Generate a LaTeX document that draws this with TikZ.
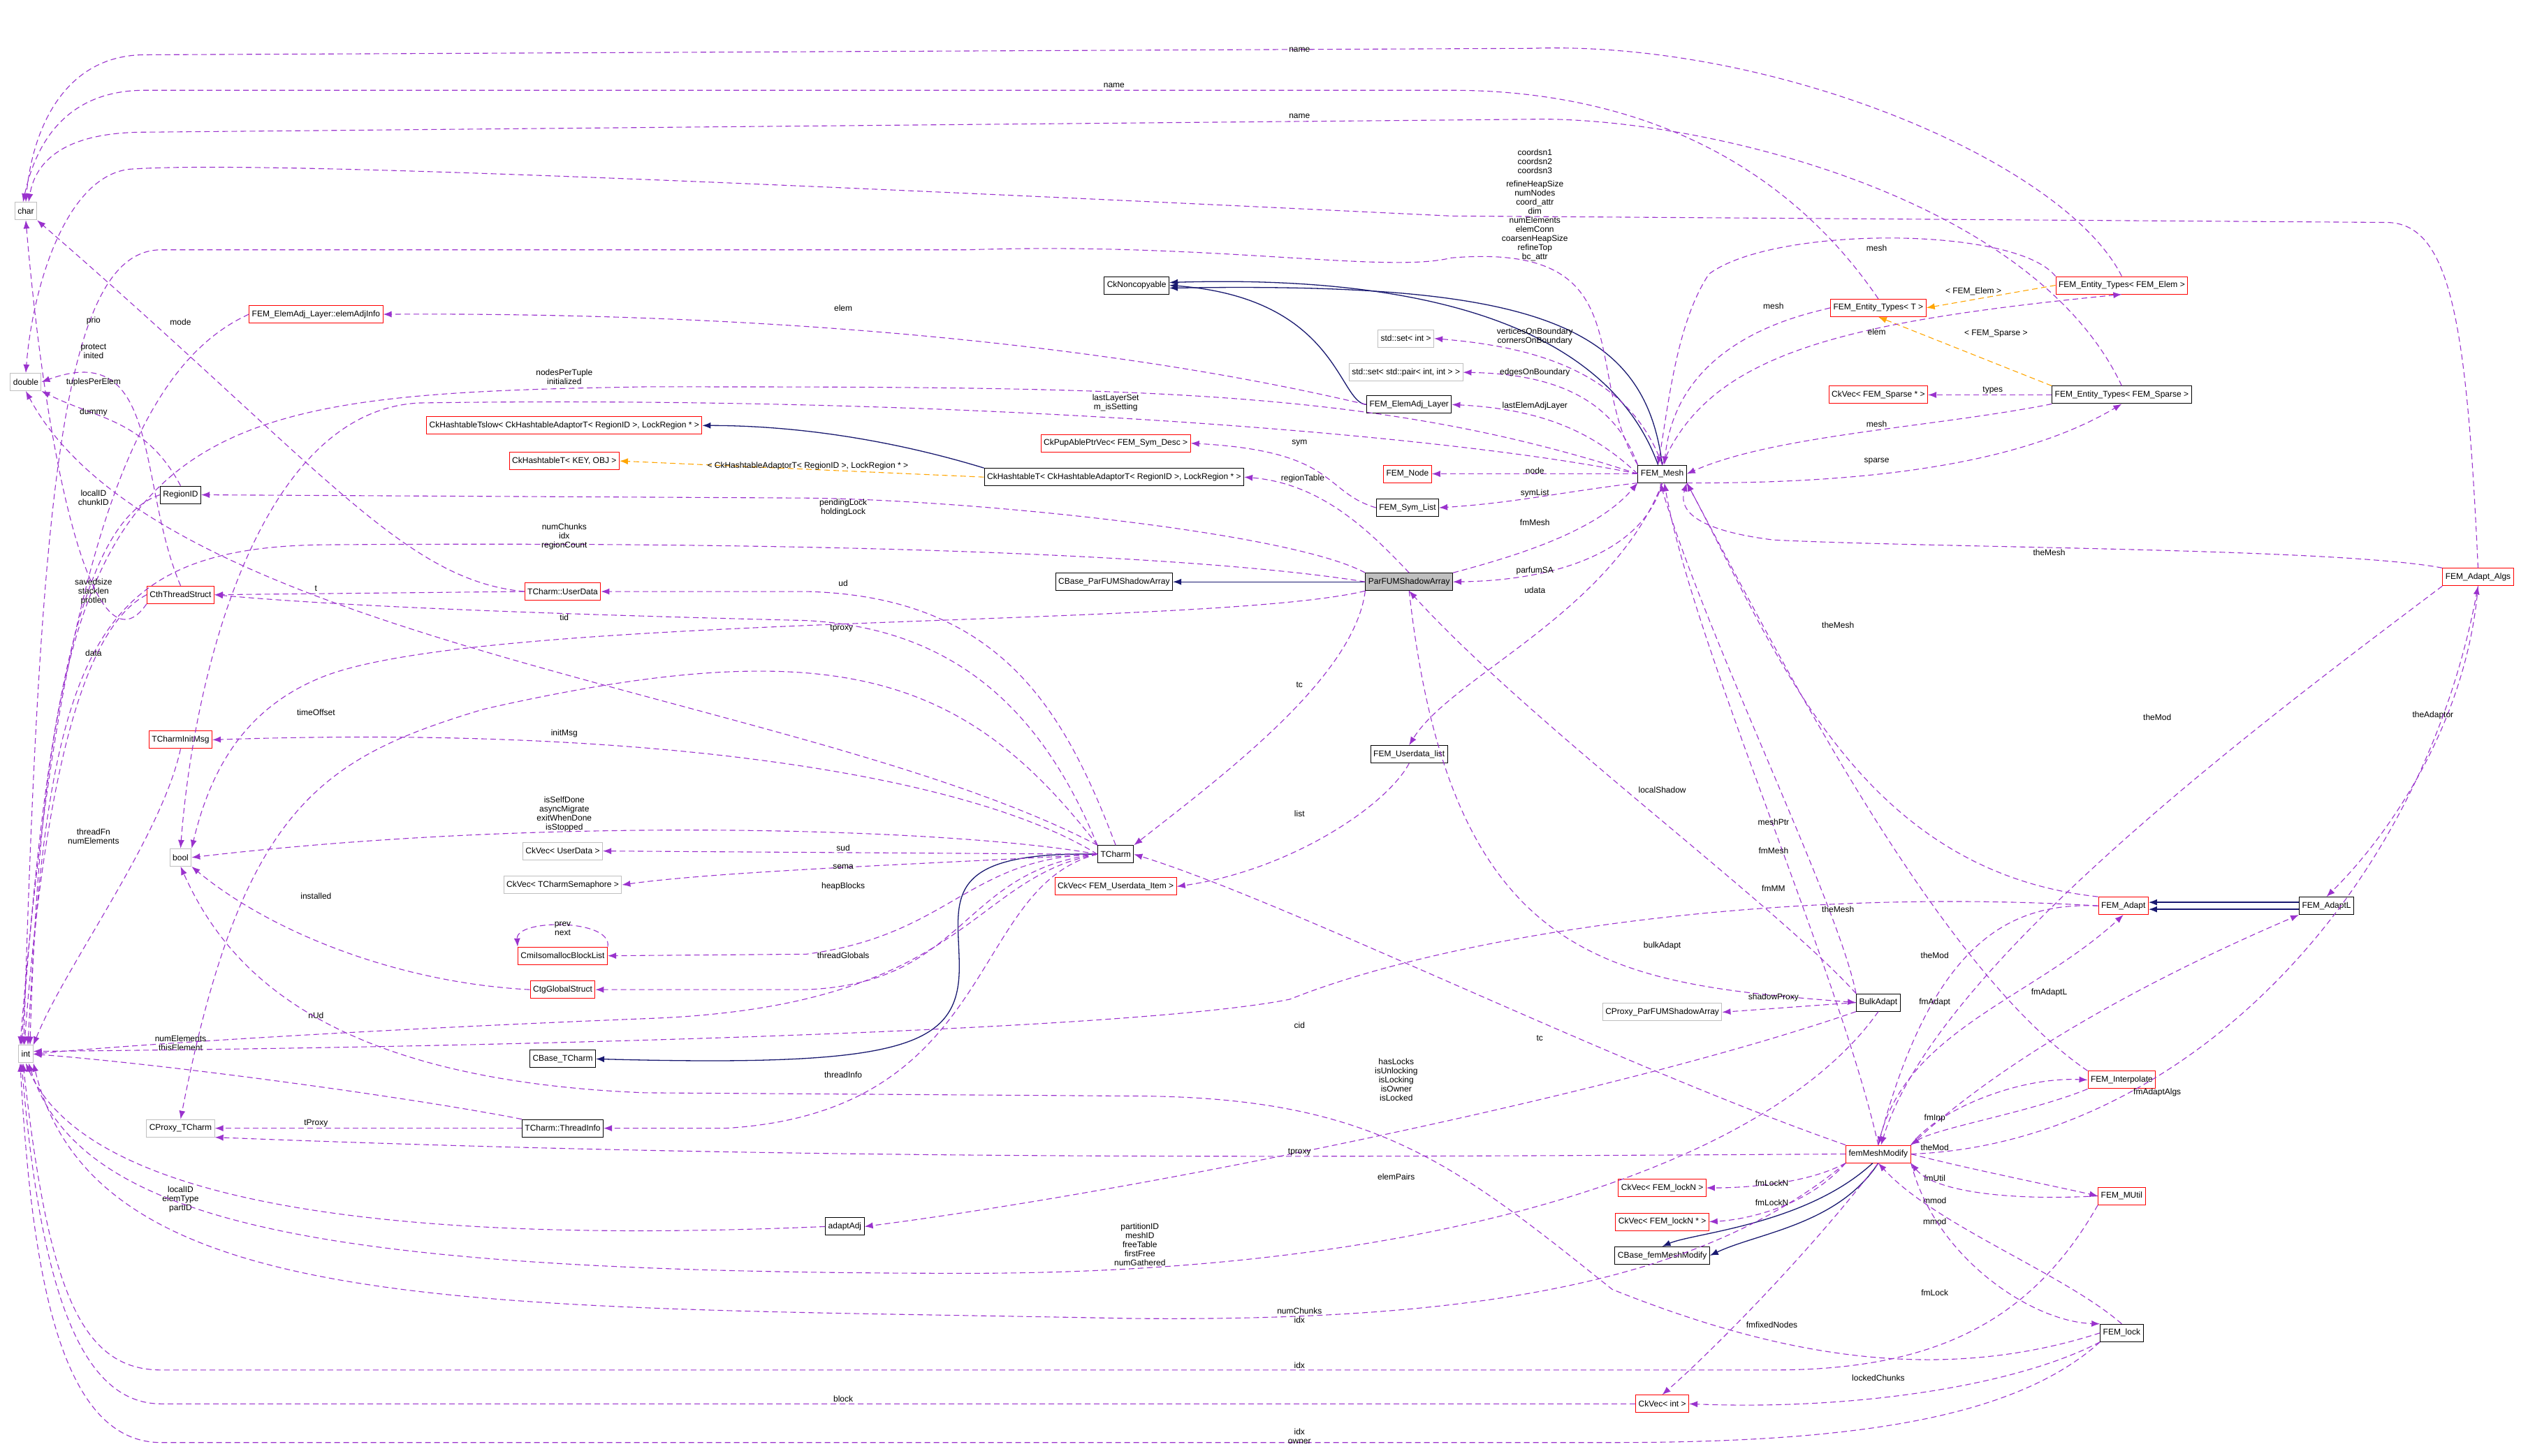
\documentclass[tikz,border=0pt]{standalone}
\usepackage{fontspec}
\setmainfont{Liberation Sans}
\usetikzlibrary{arrows.meta}
\definecolor{pu}{HTML}{9A32CD}
\definecolor{nv}{HTML}{191970}
\definecolor{og}{HTML}{FFA500}
\definecolor{gr}{HTML}{BFBFBF}
\tikzset{
 box/.style={draw=black,rectangle,inner sep=4pt,minimum height=25pt,font=\fontsize{12}{13}\selectfont,line width=1pt},
 rbox/.style={box,draw=red},
 gbox/.style={box,draw=gr},
 cur/.style={box,fill=gr},
 use/.style={draw=pu,dashed,dash pattern=on 8pt off 5pt,line width=1.1pt,-{Latex[length=12pt,width=9pt]}},
 inh/.style={draw=nv,line width=1.3pt,-{Latex[length=12pt,width=9pt]}},
 tpl/.style={draw=og,dashed,dash pattern=on 8pt off 5pt,line width=1.1pt,-{Latex[length=12pt,width=9pt]}},
 lbl/.style={font=\fontsize{12}{13}\selectfont,align=center,inner sep=0pt}
}
\begin{document}
\begin{tikzpicture}[x=2.308pt,y=-2.308pt]
\useasboundingbox[fill=white] (0,0) rectangle (1568,903);
% nodes
\node[gbox] (chr) at (16,131) {char};
\node[gbox] (dbl) at (16,237) {double};
\node[gbox] (int) at (16,654) {int};
\node[gbox] (bool) at (112,532) {bool};
\node[rbox] (eai) at (196,195) {FEM\_ElemAdj\_Layer::elemAdjInfo};
\node[box] (nc) at (705,177) {CkNoncopyable};
\node[gbox] (seti) at (872,210) {std::set< int >};
\node[gbox] (setp) at (872,231) {std::set< std::pair< int, int > >};
\node[box] (eal) at (874,251) {FEM\_ElemAdj\_Layer};
\node[rbox] (hts) at (350,264) {CkHashtableTslow< CkHashtableAdaptorT< RegionID >, LockRegion * >};
\node[rbox] (htk) at (350,286) {CkHashtableT< KEY, OBJ >};
\node[rbox] (pup) at (692,275) {CkPupAblePtrVec< FEM\_Sym\_Desc >};
\node[box] (htr) at (691,296) {CkHashtableT< CkHashtableAdaptorT< RegionID >, LockRegion * >};
\node[rbox] (fnode) at (873,294) {FEM\_Node};
\node[box] (fsym) at (873,315) {FEM\_Sym\_List};
\node[box] (mesh) at (1031,294) {FEM\_Mesh};
\node[rbox] (etT) at (1165,191) {FEM\_Entity\_Types< T >};
\node[rbox] (etE) at (1316,177) {FEM\_Entity\_Types< FEM\_Elem >};
\node[rbox] (cvs) at (1165,245) {CkVec< FEM\_Sparse * >};
\node[box] (etS) at (1316,245) {FEM\_Entity\_Types< FEM\_Sparse >};
\node[box] (rid) at (112,307) {RegionID};
\node[rbox] (cth) at (112,369) {CthThreadStruct};
\node[rbox] (ud) at (349,367) {TCharm::UserData};
\node[box] (cbp) at (691,361) {CBase\_ParFUMShadowArray};
\node[cur] (pfa) at (874,361) {ParFUMShadowArray};
\node[rbox] (algs) at (1537,358) {FEM\_Adapt\_Algs};
\node[rbox] (tim) at (112,459) {TCharmInitMsg};
\node[box] (udl) at (874,468) {FEM\_Userdata\_list};
\node[gbox] (cvud) at (349,528) {CkVec< UserData >};
\node[box] (tc) at (692,530) {TCharm};
\node[gbox] (cvsem) at (349,549) {CkVec< TCharmSemaphore >};
\node[rbox] (cvui) at (692,550) {CkVec< FEM\_Userdata\_Item >};
\node[rbox] (cmi) at (349,593) {CmiIsomallocBlockList};
\node[rbox] (ctg) at (349,614) {CtgGlobalStruct};
\node[rbox] (adp) at (1317,562) {FEM\_Adapt};
\node[box] (adl) at (1443,562) {FEM\_AdaptL};
\node[box] (bulk) at (1165,622) {BulkAdapt};
\node[gbox] (cpp) at (1031,628) {CProxy\_ParFUMShadowArray};
\node[box] (cbt) at (349,657) {CBase\_TCharm};
\node[rbox] (interp) at (1316,670) {FEM\_Interpolate};
\node[gbox] (cpt) at (112,700) {CProxy\_TCharm};
\node[box] (thi) at (349,700) {TCharm::ThreadInfo};
\node[rbox] (fmm) at (1165,716) {femMeshModify};
\node[rbox] (cvl) at (1031,737) {CkVec< FEM\_lockN >};
\node[rbox] (mutil) at (1316,742) {FEM\_MUtil};
\node[rbox] (cvlp) at (1031,758) {CkVec< FEM\_lockN * >};
\node[box] (adj) at (524,761) {adaptAdj};
\node[box] (cbf) at (1031,779) {CBase\_femMeshModify};
\node[box] (lock) at (1316,827) {FEM\_lock};
\node[rbox] (cvi) at (1031,871) {CkVec< int >};
% inheritance
\draw[inh] (eal.west) .. controls (830,250) and (830,185) .. (nc.east);
\draw[inh] (mesh.north) .. controls (1020,200) and (950,175) .. ([yshift=-4pt]nc.east);
\draw[inh] ([xshift=-6pt]mesh.north) .. controls (1000,210) and (900,170) .. ([yshift=4pt]nc.east);
\draw[inh] (htr.north west) .. controls (560,275) and (500,264) .. (hts.east);
\draw[inh] (pfa.west) -- (cbp.east);
\draw[inh] (tc.west) .. controls (580,528) and (595,560) .. (595,600) .. controls (595,650) and (560,662) .. (cbt.east);
\draw[inh] ([yshift=5pt]adl.west) -- ([yshift=5pt]adp.east);
\draw[inh] ([yshift=-5pt]adl.west) -- ([yshift=-5pt]adp.east);
\draw[inh] (fmm.south) .. controls (1140,760) and (1090,765) .. (cbf.east);
\draw[inh] ([xshift=-8pt]fmm.south) .. controls (1120,760) and (1050,765) .. (cbf.north);
% templates
\draw[tpl] (htr.west) -- (htk.east);
\node[lbl] at (501,289) {< CkHashtableAdaptorT< RegionID >, LockRegion * >};
\draw[tpl] (etE.west) -- (etT.east);
\node[lbl] at (1224,181) {< FEM\_Elem >};
\draw[tpl] (etS.north west) -- (etT.south);
\node[lbl] at (1238,207) {< FEM\_Sparse >};
% usage: to char/double
\draw[use] (etE.north) .. controls (1280,100) and (1100,25) .. (950,30) -- (90,34) .. controls (40,34) and (20,80) .. (chr.north);
\node[lbl] at (806,31) {name};
\draw[use] (etT.north) .. controls (1100,90) and (1000,56) .. (900,56) -- (90,56) .. controls (40,56) and (22,90) .. ([xshift=-4pt]chr.north);
\node[lbl] at (691,53) {name};
\draw[use] (etS.north) .. controls (1260,120) and (1050,72) .. (950,74) -- (90,82) .. controls (40,82) and (22,100) .. ([xshift=4pt]chr.north);
\node[lbl] at (806,72) {name};
\draw[use] (algs.north) .. controls (1530,200) and (1520,138) .. (1480,138) -- (900,134) .. controls (400,110) and (150,100) .. (80,105) .. controls (40,110) and (20,180) .. (dbl.north);
\node[lbl] at (952,100) {coordsn1\\coordsn2\\coordsn3};
\draw[use] (mesh.north west) .. controls (980,230) and (1020,150) .. (900,160) .. controls (860,170) and (750,150) .. (600,155) -- (100,155) .. controls (40,155) and (25,300) .. ([xshift=-3pt]int.north);
\node[lbl] at (952,137) {refineHeapSize\\numNodes\\coord\_attr\\dim\\numElements\\elemConn\\coarsenHeapSize\\refineTop\\bc\_attr};
% FEM_Mesh relations
\draw[use] (mesh.north) .. controls (1060,220) and (1140,200) .. (etE.south);
\node[lbl] at (1164,206) {elem};
\draw[use] (etE.north west) .. controls (1250,140) and (1100,140) .. (1060,170) .. controls (1040,200) and (1035,250) .. ([xshift=-6pt]mesh.north);
\node[lbl] at (1164,154) {mesh};
\draw[use] (etT.west) .. controls (1120,195) and (1040,210) .. ([xshift=3pt]mesh.north);
\node[lbl] at (1100,190) {mesh};
\draw[use] (etS.south west) .. controls (1200,265) and (1100,270) .. (mesh.east);
\node[lbl] at (1164,263) {mesh};
\draw[use] (mesh.south east) .. controls (1150,300) and (1250,290) .. (etS.south);
\node[lbl] at (1164,286) {sparse};
\draw[use] (etS.west) -- (cvs.east);
\node[lbl] at (1236,242) {types};
\draw[use] (mesh.north) .. controls (1010,230) and (950,215) .. (seti.east);
\node[lbl] at (952,209) {verticesOnBoundary\\cornersOnBoundary};
\draw[use] (mesh.north west) .. controls (1000,245) and (960,232) .. (setp.east);
\node[lbl] at (952,231) {edgesOnBoundary};
\draw[use] (mesh.west) .. controls (990,270) and (960,254) .. (eal.east);
\node[lbl] at (952,252) {lastElemAdjLayer};
\draw[use] (mesh.west) -- (fnode.east);
\node[lbl] at (952,292) {node};
\draw[use] (mesh.south west) .. controls (970,305) and (940,312) .. (fsym.east);
\node[lbl] at (952,306) {symList};
\draw[use] (eal.west) .. controls (800,240) and (600,193) .. (eai.east);
\node[lbl] at (523,191) {elem};
\draw[use] (fsym.west) .. controls (820,305) and (830,280) .. (pup.east);
\node[lbl] at (806,275) {sym};
\draw[use] (pfa.north east) .. controls (940,345) and (990,330) .. (mesh.south west);
\node[lbl] at (952,324) {fmMesh};
\draw[use] (mesh.south) .. controls (1020,340) and (970,360) .. (pfa.east);
\node[lbl] at (952,354) {parfumSA};
\draw[use] (pfa.north) .. controls (850,330) and (820,300) .. (htr.east);
\node[lbl] at (808,297) {regionTable};
\draw[use] (pfa.north west) .. controls (800,330) and (600,310) .. (500,309) -- (rid.east);
\node[lbl] at (523,315) {pendingLock\\holdingLock};
\draw[use] (pfa.west) .. controls (780,350) and (600,335) .. (200,338) .. controls (60,340) and (30,400) .. ([xshift=3pt]int.north);
\node[lbl] at (350,333) {numChunks\\idx\\regionCount};
\draw[use] (mesh.west) .. controls (900,270) and (600,245) .. (260,250) .. controls (160,255) and (120,420) .. (bool.north);
\node[lbl] at (692,250) {lastLayerSet\\m\_isSetting};
\draw[use] (mesh.west) .. controls (850,240) and (700,240) .. (400,240) .. controls (100,245) and (30,260) .. ([xshift=6pt]int.north);
\node[lbl] at (350,234) {nodesPerTuple\\initialized};
\draw[use] (mesh.south) .. controls (1000,380) and (900,420) .. (udl.north);
\node[lbl] at (952,366) {udata};
\draw[use] (udl.south) .. controls (860,500) and (800,540) .. (cvui.east);
\node[lbl] at (806,505) {list};
% ParFUM / TCharm
\draw[use] (pfa.south west) .. controls (840,420) and (760,480) .. (tc.north east);
\node[lbl] at (806,425) {tc};
\draw[use] (pfa.south west) .. controls (750,390) and (300,380) .. (200,420) .. controls (150,440) and (130,480) .. (bool.north east);
\draw[use] (tc.north) .. controls (660,440) and (620,370) .. (500,367) -- (ud.east);
\node[lbl] at (523,362) {ud};
\draw[use] (tc.north west) .. controls (650,450) and (600,390) .. (500,385) .. controls (300,380) and (200,375) .. (cth.east);
\node[lbl] at (350,383) {tid};
\draw[use] (ud.west) -- (cth.east);
\node[lbl] at (196,365) {t};
\draw[use] (ud.west) .. controls (250,360) and (200,290) .. (chr.south east);
\node[lbl] at (112,200) {mode};
\draw[use] (tc.north west) .. controls (600,420) and (520,390) .. (300,440) .. controls (200,470) and (150,500) .. (cpt.north);
\node[lbl] at (522,390) {tproxy};
\draw[use] (tc.west) .. controls (600,480) and (400,450) .. (tim.east);
\node[lbl] at (350,455) {initMsg};
\draw[use] (tc.north west) .. controls (500,430) and (100,400) .. (dbl.south);
\node[lbl] at (196,442) {timeOffset};
\draw[use] (tc.west) .. controls (600,515) and (350,505) .. (bool.east);
\node[lbl] at (350,505) {isSelfDone\\asyncMigrate\\exitWhenDone\\isStopped};
\draw[use] (tc.west) -- (cvud.east);
\node[lbl] at (523,526) {sud};
\draw[use] (tc.west) .. controls (600,535) and (450,540) .. (cvsem.east);
\node[lbl] at (523,538) {sema};
\draw[use] (tc.west) .. controls (600,532) and (590,580) .. (500,592) -- (cmi.east);
\node[lbl] at (523,550) {heapBlocks};
\draw[use] (cmi.north east) .. controls (380,570) and (320,570) .. (cmi.north west);
\node[lbl] at (349,576) {prev\\next};
\draw[use] (tc.west) .. controls (595,540) and (600,610) .. (500,614) -- (ctg.east);
\node[lbl] at (523,593) {threadGlobals};
\draw[use] (ctg.west) .. controls (250,610) and (170,580) .. (bool.south east);
\node[lbl] at (196,556) {installed};
\draw[use] (tc.west) .. controls (600,545) and (600,625) .. (400,632) .. controls (200,640) and (60,650) .. (int.east);
\node[lbl] at (196,630) {nUd};
\draw[use] (tc.west) .. controls (600,550) and (620,690) .. (450,700) -- (thi.east);
\node[lbl] at (523,667) {threadInfo};
\draw[use] (thi.west) -- (cpt.east);
\node[lbl] at (196,697) {tProxy};
\draw[use] (thi.north west) .. controls (250,680) and (100,660) .. (int.east);
\node[lbl] at (112,647) {numElements\\thisElement};
\draw[use] (tim.south) .. controls (100,520) and (40,600) .. (int.north east);
\node[lbl] at (58,519) {threadFn\\numElements};
% left cluster
\draw[use] (rid.west) .. controls (60,320) and (30,400) .. ([xshift=-6pt]int.north);
\node[lbl] at (58,309) {localID\\chunkID};
\draw[use] (cth.west) .. controls (60,385) and (30,450) .. ([xshift=-2pt]int.north);
\node[lbl] at (58,367) {savedsize\\stacklen\\protlen};
\draw[use] (cth.south west) .. controls (60,420) and (30,300) .. (chr.south);
\node[lbl] at (58,405) {data};
\draw[use] (cth.north) .. controls (85,300) and (100,210) .. (dbl.east);
\node[lbl] at (58,199) {prio};
\node[lbl] at (58,218) {protect\\inited};
\draw[use] (eai.west) .. controls (100,220) and (40,300) .. ([xshift=-8pt]int.north);
\node[lbl] at (58,237) {tuplesPerElem};
\draw[use] (rid.north) .. controls (90,260) and (60,260) .. (dbl.south east);
\node[lbl] at (58,256) {dummy};
% femMeshModify and adapters
\draw[use] (fmm.north west) .. controls (1000,660) and (800,560) .. (tc.east);
\node[lbl] at (955,644) {tc};
\draw[use] (fmm.north) .. controls (1140,600) and (1050,400) .. ([xshift=3pt]mesh.south);
\node[lbl] at (1100,528) {fmMesh};
\draw[use] (bulk.north west) .. controls (1140,560) and (1060,400) .. ([xshift=-3pt]mesh.south);
\node[lbl] at (1100,510) {meshPtr};
\draw[use] (bulk.north west) .. controls (1100,560) and (950,450) .. (pfa.south);
\node[lbl] at (1031,490) {localShadow};
\draw[use] (pfa.south) .. controls (900,600) and (1000,610) .. (bulk.west);
\node[lbl] at (1031,587) {bulkAdapt};
\draw[use] (bulk.west) -- (cpp.east);
\node[lbl] at (1100,619) {shadowProxy};
\draw[use] (bulk.south west) .. controls (1000,680) and (700,740) .. (adj.east);
\node[lbl] at (866,730) {elemPairs};
\draw[use] (adj.west) .. controls (300,770) and (60,760) .. (int.south);
\node[lbl] at (112,744) {localID\\elemType\\partID};
\draw[use] (bulk.south) .. controls (1100,720) and (900,790) .. (600,790) .. controls (200,790) and (50,760) .. ([xshift=4pt]int.south);
\node[lbl] at (707,772) {partitionID\\meshID\\freeTable\\firstFree\\numGathered};
\draw[use] (adp.west) .. controls (1250,560) and (1200,580) .. (fmm.north);
\node[lbl] at (1200,593) {theMod};
\draw[use] (adp.north west) .. controls (1150,540) and (1100,400) .. (mesh.south east);
\node[lbl] at (1140,388) {theMesh};
\draw[use] (interp.north west) .. controls (1200,600) and (1100,400) .. (mesh.south east);
\node[lbl] at (1140,564) {theMesh};
\draw[use] (algs.north west) .. controls (1450,340) and (1200,340) .. (1100,335) .. controls (1060,330) and (1040,320) .. (mesh.south east);
\node[lbl] at (1271,343) {theMesh};
\draw[use] (algs.south west) .. controls (1400,450) and (1200,600) .. ([xshift=4pt]fmm.north);
\node[lbl] at (1338,445) {theMod};
\draw[use] (algs.south) .. controls (1530,450) and (1480,520) .. (adl.north);
\node[lbl] at (1509,444) {theAdaptor};
\draw[use] (fmm.north) .. controls (1180,640) and (1260,620) .. (adp.south);
\node[lbl] at (1200,622) {fmAdapt};
\draw[use] (fmm.north east) .. controls (1250,650) and (1350,600) .. (adl.south west);
\node[lbl] at (1271,616) {fmAdaptL};
\draw[use] (fmm.east) .. controls (1350,710) and (1500,560) .. (algs.south);
\node[lbl] at (1338,678) {fmAdaptAlgs};
\draw[use] (adp.west) .. controls (1100,550) and (900,580) .. (800,620) .. controls (700,640) and (300,650) .. ([yshift=4pt]int.east);
\node[lbl] at (1100,551) {fmMM};
\node[lbl] at (806,636) {cid};
\draw[use] (fmm.north east) .. controls (1200,690) and (1250,668) .. (interp.west);
\node[lbl] at (1200,694) {fmInp};
\draw[use] (interp.south west) .. controls (1260,690) and (1200,700) .. (fmm.north east);
\node[lbl] at (1200,712) {theMod};
\draw[use] (fmm.east) .. controls (1220,725) and (1270,735) .. (mutil.west);
\node[lbl] at (1200,731) {fmUtil};
\draw[use] (mutil.west) .. controls (1250,745) and (1200,740) .. (fmm.south east);
\node[lbl] at (1200,745) {mmod};
\node[lbl] at (1200,758) {mmod};
\draw[use] (fmm.south west) .. controls (1120,735) and (1080,737) .. (cvl.east);
\node[lbl] at (1099,734) {fmLockN};
\draw[use] (fmm.south west) .. controls (1120,750) and (1080,757) .. (cvlp.east);
\node[lbl] at (1099,746) {fmLockN};
\draw[use] (fmm.south east) .. controls (1200,780) and (1260,820) .. (lock.north west);
\node[lbl] at (1200,802) {fmLock};
\draw[use] (lock.north) .. controls (1280,790) and (1200,760) .. (fmm.south);
\draw[use] (fmm.south) .. controls (1120,780) and (1060,840) .. (cvi.north);
\node[lbl] at (1099,822) {fmfixedNodes};
\draw[use] (fmm.west) .. controls (800,718) and (500,720) .. (cpt.south east);
\node[lbl] at (806,715) {tproxy};
\draw[use] (fmm.south west) .. controls (1050,800) and (900,820) .. (700,818) .. controls (300,810) and (60,820) .. (int.south east);
\node[lbl] at (806,816) {numChunks\\idx};
\draw[use] (mutil.south west) .. controls (1260,820) and (1200,850) .. (1100,850) -- (100,850) .. controls (50,850) and (30,800) .. ([xshift=-4pt]int.south);
\node[lbl] at (806,847) {idx};
\draw[use] (cvi.west) -- (100,871) .. controls (50,871) and (25,800) .. ([xshift=-6pt]int.south);
\node[lbl] at (523,868) {block};
\draw[use] (lock.south west) .. controls (1250,880) and (1150,895) .. (1000,895) -- (100,895) .. controls (40,895) and (20,800) .. ([xshift=-8pt]int.south);
\node[lbl] at (806,891) {idx\\owner};
\draw[use] (lock.west) .. controls (1200,860) and (1100,840) .. (1000,800) .. controls (900,720) and (850,680) .. (700,680) -- (400,678) .. controls (200,670) and (140,600) .. (bool.south);
\node[lbl] at (866,670) {hasLocks\\isUnlocking\\isLocking\\isOwner\\isLocked};
\draw[use] (lock.south west) .. controls (1250,860) and (1150,875) .. (cvi.east);
\node[lbl] at (1165,855) {lockedChunks};
\end{tikzpicture}
\end{document}
